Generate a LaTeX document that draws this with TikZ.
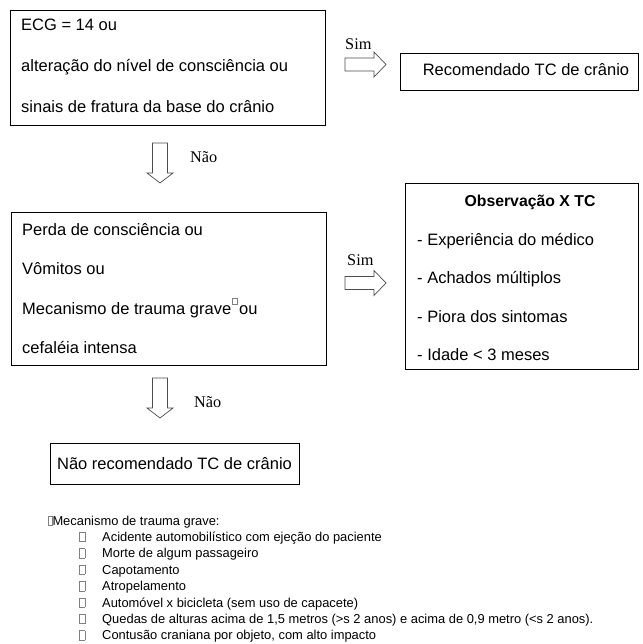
\documentclass[tikz,border=0pt]{standalone}
\usepackage{fontspec}
\setmainfont{Liberation Sans}
\newfontfamily\serifb{Liberation Serif}
\newcommand\glyphbox[3]{{\setlength\fboxsep{0pt}\setlength\fboxrule{0.4pt}\color{black!50}\raisebox{#3}{\fbox{\rule{0pt}{#2}\rule{#1}{0pt}}}}}
\begin{document}
\begin{tikzpicture}[x=1pt,y=-1pt,
 box/.style={draw=black,line width=0.8pt,inner sep=0pt},
 txt/.style={anchor=base west,inner sep=0pt,font=\fontsize{16.5}{19}\selectfont},
 lbl/.style={anchor=base west,inner sep=0pt,font=\serifb\fontsize{16.3}{19}\selectfont},
 foot/.style={anchor=base west,inner sep=0pt,font=\fontsize{12.9}{15}\selectfont},
 blk/.style={draw=black!70,line width=0.7pt,fill=white},
 rarrow/.pic={\draw[blk] (0,-6.5) -- (29,-6.5) -- (29,-12.5) -- (41,0) -- (29,12.5) -- (29,6.5) -- (0,6.5) -- cycle;},
 darrow/.pic={\draw[blk] (-7.5,0) -- (-7.5,30) -- (-13,30) -- (0,40) -- (13,30) -- (7.5,30) -- (7.5,0) -- cycle;}]
\path[use as bounding box] (0,0) rectangle (642,644);

% boxes
\node[box,anchor=north west,minimum width=315pt,minimum height=115pt] (b1) at (10,10) {};
\node[box,anchor=north west,minimum width=238pt,minimum height=37pt] (b2) at (400,53) {};
\node[box,anchor=north west,minimum width=315pt,minimum height=153pt] (b3) at (11,212) {};
\node[box,anchor=north west,minimum width=233pt,minimum height=186pt] (b4) at (405,183) {};
\node[box,anchor=north west,minimum width=249pt,minimum height=41pt] (b5) at (50,443) {};

% box 1 text
\node[txt] (t11) at (21,31) {ECG = 14 ou};
\node[txt] (t12) at (21,72) {alteração do nível de consciência ou};
\node[txt] (t13) at (21,113) {sinais de fratura da base do crânio};

% box 2 text
\node[txt,anchor=base] (t21) at (526,76) {Recomendado TC de crânio};

% box 3 text
\node[txt] (t31) at (22,235) {Perda de consciência ou};
\node[txt] (t32) at (22,274) {Vômitos ou};
\node[txt] (t33) at (22,314) {Mecanismo de trauma grave\hspace{1pt}\glyphbox{4.5pt}{5.5pt}{10pt}\hspace{1.5pt}ou};
\node[txt] (t34) at (22,353) {cefaléia intensa};

% box 4 text
\node[txt,anchor=base,font=\bfseries\fontsize{15.8}{19}\selectfont] (t40) at (530,207) {Observação X TC};
\node[txt] (t41) at (417,245) {- Experiência do médico};
\node[txt] (t42) at (417,283) {- Achados múltiplos};
\node[txt] (t43) at (417,322) {- Piora dos sintomas};
\node[txt] (t44) at (417,360) {- Idade < 3 meses};

% box 5 text
\node[txt,anchor=base] (t51) at (174.5,469) {Não recomendado TC de crânio};

% block arrows and labels
\pic at (345,64.5) {rarrow};
\node[lbl] (s1) at (345,50) {Sim};
\pic at (160,143) {darrow};
\node[lbl] (n1) at (190,163) {Não};
\pic at (345,283) {rarrow};
\node[lbl] (s2) at (347,265) {Sim};
\pic at (160,378) {darrow};
\node[lbl] (n2) at (194,407) {Não};

% footnote
\node[foot] (f0) at (48,525) {\glyphbox{3.5pt}{9pt}{0pt}Mecanismo de trauma grave:};
\foreach \t [count=\i] in {Acidente automobilístico com ejeção do paciente,
  Morte de algum passageiro,
  Capotamento,
  Atropelamento,
  Automóvel x bicicleta (sem uso de capacete),
  {Quedas de alturas acima de 1,5 metros (>s 2 anos) e acima de 0,9 metro (<s 2 anos).},
  {Contusão craniana por objeto, com alto impacto}} {
  \node[foot] (fb\i) at (79,525+16.4*\i) {\glyphbox{5pt}{9pt}{0pt}};
  \node[foot] (f\i) at (102,525+16.4*\i) {\t};
}
\end{tikzpicture}
\end{document}
